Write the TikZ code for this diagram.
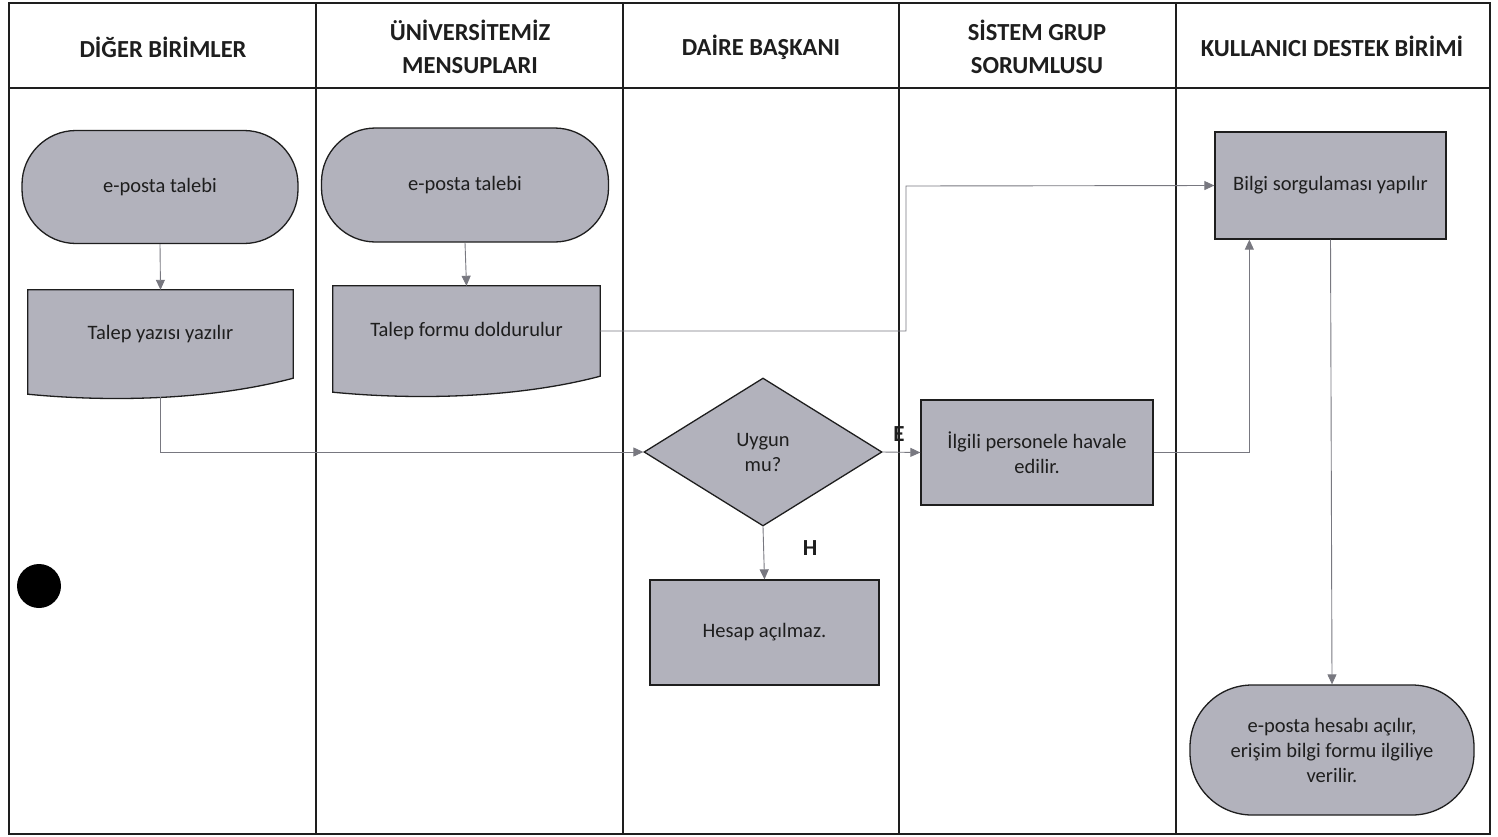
\documentclass[tikz,border=0pt]{standalone}
\usepackage{fontspec}
\setmainfont{Carlito}
\usetikzlibrary{shapes.geometric,arrows.meta,calc}
\definecolor{boxfill}{RGB}{178,178,188}
\definecolor{linkgray}{RGB}{120,120,128}
\definecolor{inkdark}{RGB}{30,30,30}
\begin{document}
\begin{tikzpicture}[x=1pt,y=-1pt,
  lane/.style={draw=inkdark,line width=2pt},
  head/.style={font=\bfseries\fontsize{24.5}{33}\selectfont,align=center,text=inkdark},
  body/.style={font=\fontsize{20.5}{25}\selectfont,align=center,text=inkdark},
  terminal/.style={body,draw=inkdark,line width=1.3pt,fill=boxfill,rectangle,rounded corners=54pt,inner sep=0pt},
  process/.style={body,draw=inkdark,line width=1.3pt,fill=boxfill,rectangle,inner sep=0pt},
  decision/.style={body,draw=inkdark,line width=1.3pt,fill=boxfill,diamond,inner sep=0pt},
  docarea/.style={rectangle,inner sep=0pt},
  docshape/.style={draw=inkdark,line width=1.3pt,fill=boxfill},
  link/.style={draw=linkgray,line width=0.9pt,-{Triangle[length=10pt,width=9pt]}},
  tag/.style={font=\bfseries\fontsize{23}{26}\selectfont,text=inkdark}
]
\useasboundingbox (0,0) rectangle (1498,836);
\fill[white] (0,0) rectangle (1498,836);

% swimlane frame
\draw[lane] (9,3) rectangle (1490,834);
\draw[lane] (9,88) -- (1490,88);
\foreach \xx in {316,623,899,1176} \draw[lane] (\xx,3) -- (\xx,834);

% lane titles
\node[head] (h1) at (163,47) {DİĞER BİRİMLER};
\node[head] (h2) at (470,47) {ÜNİVERSİTEMİZ\\MENSUPLARI};
\node[head] (h3) at (761,47) {DAİRE BAŞKANI};
\node[head] (h4) at (1037,47) {SİSTEM GRUP\\SORUMLUSU};
\node[head] (h5) at (1332,46) {KULLANICI DESTEK BİRİMİ};

% start terminals
\node[terminal,minimum width=276pt,minimum height=113pt] (t1) at (160,187) {e-posta talebi};
\node[terminal,minimum width=287pt,minimum height=114pt] (t2) at (465,185) {e-posta talebi};

% document shapes
\node[docarea,minimum width=265pt,minimum height=88pt] (d1) at (160.5,334) {};
\draw[docshape] (d1.north west) -- (d1.north east) -- (d1.south east)
  .. controls ($(d1.south east)+(-83,22)$) and ($(d1.south west)+(82,24)$) .. ($(d1.south west)+(0,16)$) -- cycle;
\node[body] at (d1.center) {Talep yazısı yazılır};
\coordinate (d1b) at ($(d1.south)+(0,19)$);

\node[docarea,minimum width=267pt,minimum height=90pt] (d2) at (466.5,331) {};
\draw[docshape] (d2.north west) -- (d2.north east) -- (d2.south east)
  .. controls ($(d2.south east)+(-83,22)$) and ($(d2.south west)+(82,24)$) .. ($(d2.south west)+(0,16)$) -- cycle;
\node[body] at (d2.center) {Talep formu doldurulur};

% decision and processes
\node[decision,minimum width=238pt,minimum height=148pt] (q) at (763,452) {};
\node[body] at (q.center) {Uygun\\mu?};
\node[process,minimum width=232pt,minimum height=105pt] (p1) at (1037,452.5) {İlgili personele havale\\edilir.};
\node[process,minimum width=229pt,minimum height=105pt] (p2) at (764.5,632.5) {Hesap açılmaz.};
\node[process,minimum width=231pt,minimum height=107pt] (p3) at (1330.5,185.5) {Bilgi sorgulaması yapılır};
\node[terminal,minimum width=284pt,minimum height=130pt,rounded corners=62pt] (t3) at (1332,750) {e-posta hesabı açılır,\\erişim bilgi formu ilgiliye\\verilir.};

% connectors
\draw[link] (t1.south) -- (d1.north);
\draw[link] (t2.south) -- (d2.north);
\draw[link] (d1b) |- (q.west);
\draw[link] (d2.east) -| (906,186) -- (p3.west);
\draw[link] (q.east) -- (p1.west);
\draw[link] (q.south) -- (p2.north);
\draw[link] (p1.east) -| ($(p3.south west)+(35,0)$);
\draw[link] (p3.south) -- (t3.north);

% branch labels
\node[tag] (le) at (899,434) {E};
\node[tag] (lh) at (810,548) {H};

% punched hole mark
\fill[black] (39,586) circle (22);
\end{tikzpicture}
\end{document}
